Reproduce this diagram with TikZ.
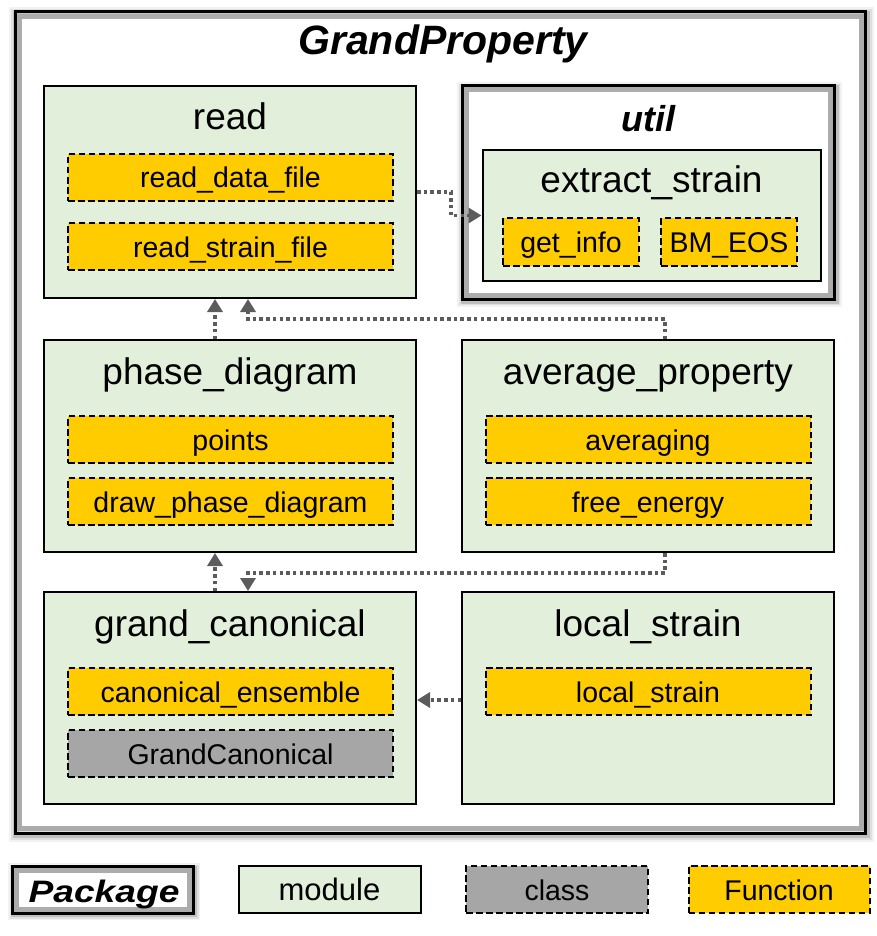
\documentclass[tikz,border=0pt]{standalone}
\usepackage{fontspec}
\setmainfont{Liberation Sans}
\usetikzlibrary{arrows.meta}

\definecolor{modgreen}{HTML}{E2EFDA}
\definecolor{funcgold}{HTML}{FFCC00}
\definecolor{classgray}{HTML}{A6A6A6}
\definecolor{arrowgray}{HTML}{5C5C5C}

\tikzset{
  module/.style={draw=black, fill=modgreen, line width=2pt, inner sep=0pt,
    minimum width=372pt, minimum height=212pt},
  func/.style={draw=black, fill=funcgold, line width=2pt, dash pattern=on 6.5pt off 3.5pt,
    inner sep=0pt, minimum width=325pt, minimum height=47pt,
    text height=22pt, text depth=1pt, font=\fontsize{28.5}{32}\selectfont},
  cls/.style={func, fill=classgray},
  title/.style={anchor=base, font=\fontsize{37}{40}\selectfont},
  pkgtitle/.style={anchor=base, font=\fontsize{41}{44}\selectfont\bfseries\itshape},
  pkgbox/.style={draw=gray!65, fill=white, line width=5pt, inner sep=0pt},
  pkgline/.style={draw=black, line width=3pt},
  dep/.style={draw=arrowgray, line width=3.5pt, dash pattern=on 3.5pt off 3.2pt,
    -{Triangle[length=13pt,width=15pt]}},
}

\begin{document}
\begin{tikzpicture}[x=1pt,y=-1pt]
\useasboundingbox (0,0) rectangle (877,936);

% package GrandProperty
\foreach \w/\o in {14/0.05,10/0.08,6/0.14}
  \draw[black, opacity=\o, line width=\w pt] (16,14) rectangle (867,835);
\node[pkgbox, minimum width=842pt, minimum height=811pt] (grand) at (440,422.5) {};
\draw[pkgline] (15,12) rectangle (865,833);
\node[pkgtitle] (grand title) at (443,55) {GrandProperty};

% package util
\foreach \w/\o in {12/0.05,8/0.08,5/0.14}
  \draw[black, opacity=\o, line width=\w pt] (463,88) rectangle (836,301);
\node[pkgbox, minimum width=364pt, minimum height=205pt] (util) at (648,192.5) {};
\draw[pkgline] (462,86) rectangle (834,299);
\node[pkgtitle, font=\fontsize{36}{40}\selectfont\bfseries\itshape] (util title) at (648,132) {util};

% modules
\node[module] (read) at (230,192) {};
\node[title] (read title) at (230,130) {read};
\node[func] (read_data_file) at (230.5,177.5) {read\_data\_file};
\node[func] (read_strain_file) at (230.5,246.5) {read\_strain\_file};

\node[module, minimum width=338pt, minimum height=131pt] (extract_strain) at (651.5,215.5) {};
\node[title] (extract_strain title) at (651.5,193) {extract\_strain};
\node[func, minimum width=136pt, minimum height=48pt] (get_info) at (571,242) {get\_info};
\node[func, minimum width=136pt, minimum height=48pt] (BM_EOS) at (729,242) {BM\_EOS};

\node[module] (phase_diagram) at (230,446) {};
\node[title] (phase_diagram title) at (230,384) {phase\_diagram};
\node[func] (points) at (230.5,439.5) {points};
\node[func] (draw_phase_diagram) at (230.5,501.5) {draw\_phase\_diagram};

\node[module] (average_property) at (648,446) {};
\node[title] (average_property title) at (648,384) {average\_property};
\node[func] (averaging) at (648,439.5) {averaging};
\node[func] (free_energy) at (648,501.5) {free\_energy};

\node[module] (grand_canonical) at (230,698) {};
\node[title] (grand_canonical title) at (230,636) {grand\_canonical};
\node[func] (canonical_ensemble) at (230.5,691.5) {canonical\_ensemble};
\node[cls] (GrandCanonical) at (230.5,753.5) {GrandCanonical};

\node[module] (local_strain) at (648,698) {};
\node[title] (local_strain title) at (648,636) {local\_strain};
\node[func] (local_strain_func) at (648,691.5) {local\_strain};

% dependencies
\draw[dep] (read.east) -- ++(34,0) |- (extract_strain.west);
\draw[dep] ([xshift=-15pt]phase_diagram.north) -- ([xshift=-15pt]read.south);
\draw[dep] ([xshift=17pt]average_property.north) -- ++(0,-20) -| ([xshift=18pt]read.south);
\draw[dep] ([xshift=-15pt]grand_canonical.north) -- ([xshift=-15pt]phase_diagram.south);
\draw[dep] ([xshift=17pt]average_property.south) -- ++(0,20) -| ([xshift=18pt]grand_canonical.north);
\draw[dep] ([yshift=-2pt]local_strain.west) -- ([yshift=-2pt]grand_canonical.east);

% legend
\foreach \w/\o in {10/0.05,7/0.08,4/0.14}
  \draw[black, opacity=\o, line width=\w pt] (13,868) rectangle (195,915);
\node[pkgbox, minimum width=173pt, minimum height=39pt] (legend package) at (102.5,889.5) {};
\draw[pkgline] (12,866) rectangle (193,913);
\node[pkgtitle, font=\fontsize{31}{34}\selectfont\bfseries\itshape] (legend package text) at (104,902)
  {\scalebox{1.2}[1]{Package}};
\node[module, minimum width=182pt, minimum height=47pt, font=\fontsize{31}{34}\selectfont,
  text height=22pt, text depth=1pt] (legend module) at (329.5,889.5) {module};
\node[cls, minimum width=182pt] (legend class) at (557,889.5) {class};
\node[func, minimum width=181pt] (legend func) at (779,889.5) {Function};

\end{tikzpicture}
\end{document}
